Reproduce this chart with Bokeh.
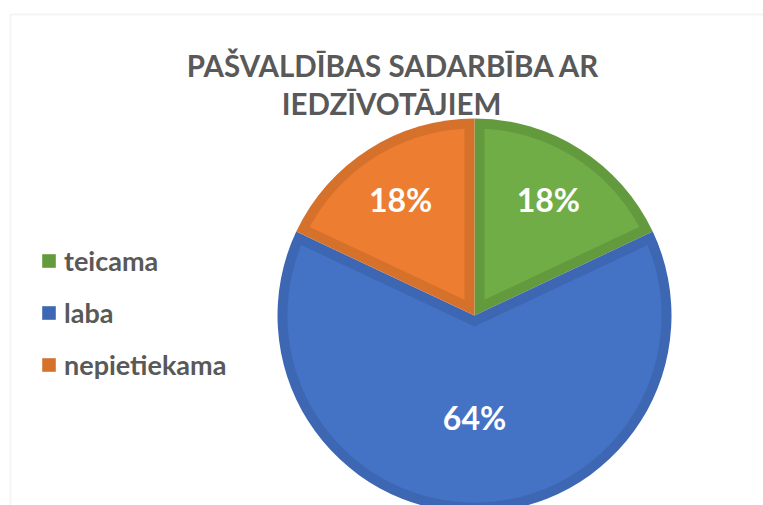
import numpy as np
from bokeh.plotting import figure
from bokeh.models import ColumnDataSource, Legend, LegendItem, BoxAnnotation, Range1d
from bokeh.core.properties import value
from bokeh.embed import file_html
from bokeh.resources import INLINE

# ---- data ----
categories = ["teicama", "laba", "nepietiekama"]
values = [18, 64, 18]
fill_colors = ["#70AD47", "#4472C4", "#ED7D31"]
edge_colors = ["#629A3D", "#3D67B3", "#D6712C"]
title_lines = ["PAŠVALDĪBAS SADARBĪBA AR", "IEDZĪVOTĀJIEM"]

FONT = "Lato"
W, H = 763, 505
cx, cy, R = 474.0, 190.0, 197.0
T = 10.0  # slice border thickness

vals = np.array(values, dtype=float)
frac = vals / vals.sum()
cum = np.concatenate([[0], np.cumsum(frac)])
ang = np.pi / 2 - 2 * np.pi * cum          # clockwise from 12 o'clock
starts = ang[1:]
ends = ang[:-1]

p = figure(width=W, height=H, x_range=Range1d(0, W), y_range=Range1d(0, H),
           output_backend="svg", toolbar_location=None, min_border=0)
p.axis.visible = False
p.grid.visible = False
p.outline_line_color = None
p.background_fill_color = "white"
p.border_fill_color = "white"

# chart area frame (cropped on the right/bottom)
p.add_layout(BoxAnnotation(left=10, right=W + 50, top=491, bottom=-50,
                           fill_alpha=0, line_color="#d9d9d9", line_width=2))

# outer wedges (border colour)
src = ColumnDataSource(dict(cat=categories, start=starts, end=ends,
                            edge=edge_colors, fill=fill_colors))
outer = p.wedge(x=cx, y=cy, radius=R, start_angle="start", end_angle="end",
                fill_color="edge", line_color=None, source=src)

# inset fill polygons
xs, ys = [], []
Ri = R - T
for s, e in zip(starts, ends):
    th = e - s
    m = (s + e) / 2
    d = T / np.sin(th / 2)
    ax_, ay_ = cx + d * np.cos(m), cy + d * np.sin(m)
    delta = np.arcsin(T / Ri)
    arc = np.linspace(s + delta, e - delta, 200)
    xs.append(np.concatenate([[ax_], cx + Ri * np.cos(arc)]))
    ys.append(np.concatenate([[ay_], cy + Ri * np.sin(arc)]))
p.patches(xs=xs, ys=ys, fill_color=fill_colors, line_color=None)

# percentage labels
mids = (starts + ends) / 2
lr = np.where(frac < 0.5, 0.70 * R, 0.52 * R)
lab_src = ColumnDataSource(dict(x=cx + lr * np.cos(mids), y=cy + lr * np.sin(mids),
                                t=[f"{int(round(v))}%" for v in vals]))
p.text(x="x", y="y", text="t", source=lab_src, text_align="center",
       text_baseline="middle", text_font=value(FONT), text_font_style="bold",
       text_font_size="32px", text_color="white")

# title
p.text(x=[393, 391], y=[440, 402], text=title_lines, text_align="center",
       text_baseline="alphabetic", text_font=value(FONT), text_font_style="bold",
       text_font_size="29.5px", text_color="#595959")

# legend
legend = Legend(items=[LegendItem(label=c, renderers=[outer], index=i)
                       for i, c in enumerate(categories)],
                location=(40, 124), orientation="vertical",
                glyph_width=17, glyph_height=17, label_standoff=7,
                label_text_font=FONT, label_text_font_style="bold",
                label_text_font_size="27px", label_text_color="#595959",
                spacing=19, padding=0, margin=0,
                border_line_color=None, background_fill_alpha=0)
p.add_layout(legend)

html = file_html(p, INLINE)
html = html.replace("<head>", "<head><style>html,body{overflow:hidden;}</style>", 1)
open("out.html", "w").write(html)
